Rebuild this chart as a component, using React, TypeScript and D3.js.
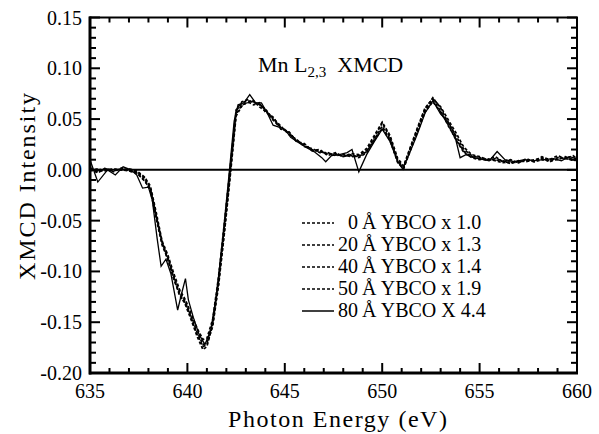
import React from 'react';
import * as d3 from 'd3';

// photon energies (eV) shared by the four dotted curves
const energyDotted = [
  635.0, 635.4, 635.8, 636.2, 636.6, 637.0, 637.4, 637.8, 638.1, 638.4,
  638.7, 639.0, 639.3, 639.6, 639.9, 640.2, 640.5, 640.8, 641.0, 641.3,
  641.6, 641.9, 642.2, 642.5, 642.8, 643.1, 643.4, 643.7, 644.0, 644.4,
  644.8, 645.2, 645.6, 646.0, 646.4, 646.8, 647.2, 647.6, 648.0, 648.4,
  648.8, 649.2, 649.6, 650.0, 650.4, 650.8, 651.1, 651.4, 651.8, 652.2,
  652.6, 653.0, 653.4, 653.8, 654.2, 654.6, 655.0, 655.4, 655.8, 656.2,
  656.6, 657.0, 657.4, 657.8, 658.2, 658.6, 659.0, 659.4, 659.8, 660.0,
];

const ybco0 = [
  0.0, -0.002, 0.0, -0.001, 0.001, 0.0, -0.002, -0.008, -0.018, -0.045,
  -0.072, -0.086, -0.105, -0.12, -0.13, -0.145, -0.16, -0.172, -0.17, -0.15,
  -0.108, -0.055, 0.0, 0.058, 0.066, 0.068, 0.067, 0.064, 0.06, 0.05,
  0.042, 0.036, 0.029, 0.024, 0.02, 0.018, 0.016, 0.015, 0.014, 0.014,
  0.013, 0.018, 0.03, 0.043, 0.03, 0.008, 0.002, 0.018, 0.038, 0.058,
  0.069, 0.058, 0.043, 0.03, 0.018, 0.013, 0.011, 0.01, 0.01, 0.008,
  0.007, 0.008, 0.009, 0.009, 0.011, 0.008, 0.011, 0.012, 0.009, 0.01,
];

const ybco20 = [
  0.002, -0.001, 0.001, 0.0, 0.0, -0.001, -0.003, -0.01, -0.02, -0.048,
  -0.074, -0.088, -0.108, -0.122, -0.133, -0.148, -0.164, -0.177, -0.174, -0.152,
  -0.112, -0.06, -0.004, 0.055, 0.064, 0.066, 0.068, 0.062, 0.058, 0.051,
  0.043, 0.035, 0.03, 0.023, 0.021, 0.017, 0.017, 0.014, 0.015, 0.013,
  0.014, 0.019, 0.032, 0.046, 0.032, 0.009, 0.003, 0.019, 0.04, 0.06,
  0.071, 0.061, 0.046, 0.033, 0.02, 0.014, 0.012, 0.009, 0.011, 0.009,
  0.006, 0.009, 0.008, 0.01, 0.012, 0.009, 0.01, 0.013, 0.01, 0.012,
];

const ybco40 = [
  -0.001, 0.001, -0.001, 0.001, 0.0, 0.001, -0.001, -0.007, -0.016, -0.042,
  -0.07, -0.084, -0.102, -0.118, -0.128, -0.142, -0.156, -0.167, -0.166, -0.147,
  -0.105, -0.052, 0.003, 0.059, 0.067, 0.069, 0.066, 0.065, 0.059, 0.049,
  0.041, 0.037, 0.028, 0.025, 0.019, 0.019, 0.015, 0.016, 0.013, 0.015,
  0.012, 0.017, 0.029, 0.041, 0.029, 0.007, 0.001, 0.017, 0.037, 0.057,
  0.067, 0.057, 0.044, 0.029, 0.017, 0.012, 0.01, 0.011, 0.009, 0.007,
  0.008, 0.007, 0.01, 0.008, 0.01, 0.009, 0.012, 0.011, 0.01, 0.009,
];

const ybco50 = [
  0.001, -0.003, 0.002, -0.002, 0.002, -0.001, -0.003, -0.011, -0.019, -0.046,
  -0.071, -0.089, -0.106, -0.124, -0.131, -0.146, -0.162, -0.174, -0.172, -0.154,
  -0.114, -0.062, -0.006, 0.053, 0.063, 0.067, 0.064, 0.066, 0.057, 0.052,
  0.04, 0.038, 0.028, 0.026, 0.019, 0.02, 0.014, 0.017, 0.013, 0.016,
  0.015, 0.021, 0.034, 0.047, 0.034, 0.011, 0.004, 0.02, 0.041, 0.061,
  0.07, 0.062, 0.049, 0.036, 0.022, 0.015, 0.013, 0.01, 0.013, 0.008,
  0.01, 0.007, 0.011, 0.008, 0.013, 0.01, 0.014, 0.011, 0.014, 0.011,
];

// the 80 A curve is sampled on its own grid
const energySolid = [
  635.0, 635.4, 635.9, 636.3, 636.7, 637.1, 637.4, 637.7, 638.0, 638.2,
  638.45, 638.65, 638.9, 639.15, 639.5, 639.7, 639.9, 640.05, 640.3, 640.6,
  640.9, 641.2, 641.5, 641.8, 642.1, 642.4, 642.6, 642.9, 643.2, 643.5,
  643.8, 644.1, 644.4, 644.7, 645.0, 645.3, 645.7, 646.1, 646.5, 646.9,
  647.1, 647.4, 647.8, 648.2, 648.45, 648.8, 649.2, 649.6, 650.0, 650.4,
  650.8, 651.05, 651.4, 651.8, 652.2, 652.6, 653.0, 653.4, 653.7, 654.0,
  654.3, 654.7, 655.2, 655.5, 655.9, 656.3, 656.8, 657.3, 657.8, 658.3,
  658.8, 659.2, 659.6, 660.0,
];

const ybco80 = [
  0.01, -0.012, 0.0, -0.005, 0.003, 0.0, -0.005, -0.018, -0.017, -0.03,
  -0.068, -0.095, -0.088, -0.102, -0.138, -0.122, -0.107, -0.128, -0.145, -0.162,
  -0.172, -0.158, -0.122, -0.07, -0.012, 0.048, 0.064, 0.066, 0.074, 0.066,
  0.066, 0.056, 0.044, 0.042, 0.04, 0.032, 0.027, 0.022, 0.018, 0.012,
  0.008, 0.014, 0.015, 0.017, 0.02, -0.002, 0.015, 0.028, 0.04, 0.028,
  0.008, 0.001, 0.016, 0.035, 0.056, 0.068, 0.055, 0.047, 0.036, 0.012,
  0.015, 0.012, 0.01, 0.009, 0.018, 0.01, 0.008, 0.01, 0.009, 0.01,
  0.011, 0.009, 0.013, 0.011,
];

const legendThickness = ['0', '20', '40', '50', '80'];
const legendText = ['Å YBCO x 1.0', 'Å YBCO x 1.3', 'Å YBCO x 1.4', 'Å YBCO x 1.9', 'Å YBCO X 4.4'];
const legendDashed = [true, true, true, true, false];

const xTicks = [635, 640, 645, 650, 655, 660];
const yTicks = [0.15, 0.1, 0.05, 0.0, -0.05, -0.1, -0.15, -0.2];

const W = 599;
const H = 434;
const left = 90;
const right = 577;
const top = 17.5;
const bottom = 373;
const font = '"Liberation Serif", "Times New Roman", serif';

export default function App() {
  const x = d3.scaleLinear().domain([635, 660]).range([left, right]);
  const y = d3.scaleLinear().domain([-0.2, 0.15]).range([bottom, top]);

  const line = d3
    .line<[number, number]>()
    .x((d) => x(d[0]))
    .y((d) => y(d[1]));

  const dotted = [ybco0, ybco20, ybco40, ybco50].map((vals) =>
    line(energyDotted.map((e, i) => [e, vals[i]] as [number, number]))
  );
  const solid = line(energySolid.map((e, i) => [e, ybco80[i]] as [number, number]));

  const xMinor = d3.range(635, 660.01, 1);
  const yMinor = d3.range(-0.2, 0.1501, 0.01);

  return (
    <svg
      width={W}
      height={H}
      style={{ position: 'absolute', left: 0, top: 0, background: '#fff' }}
      fontFamily={font}
    >
      <rect width={W} height={H} fill="#fff" />

      {/* zero line */}
      <line x1={left} x2={right} y1={y(0)} y2={y(0)} stroke="#000" strokeWidth={2} />

      {/* curves */}
      {dotted.map((d, i) => (
        <path key={i} d={d ?? ''} fill="none" stroke="#000" strokeWidth={1.7} strokeDasharray="3,2" />
      ))}
      <path d={solid ?? ''} fill="none" stroke="#000" strokeWidth={1.3} />

      {/* ticks, inward on all four sides */}
      {xMinor.map((v) => {
        const major = Math.abs(v % 5) < 1e-6;
        const len = major ? 10 : 5;
        return (
          <g key={'x' + v}>
            <line x1={x(v)} x2={x(v)} y1={bottom} y2={bottom - len} stroke="#000" strokeWidth={2} />
            <line x1={x(v)} x2={x(v)} y1={top} y2={top + len} stroke="#000" strokeWidth={2} />
          </g>
        );
      })}
      {yMinor.map((v) => {
        const major = Math.abs(Math.round(v * 100) % 5) === 0;
        const len = major ? 10 : 6;
        return (
          <g key={'y' + v.toFixed(2)}>
            <line x1={left} x2={left + len} y1={y(v)} y2={y(v)} stroke="#000" strokeWidth={2} />
            <line x1={right} x2={right - len} y1={y(v)} y2={y(v)} stroke="#000" strokeWidth={2} />
          </g>
        );
      })}

      {/* frame */}
      <rect x={left} y={top} width={right - left} height={bottom - top} fill="none" stroke="#000" strokeWidth={2} />
      <line x1={left} x2={left} y1={top - 1} y2={bottom + 1.5} stroke="#000" strokeWidth={3} />
      <line x1={left - 1} x2={right + 1} y1={bottom} y2={bottom} stroke="#000" strokeWidth={3} />

      {/* tick labels */}
      {xTicks.map((v) => (
        <text key={'xl' + v} x={x(v)} y={398} textAnchor="middle" fontSize={20}>
          {v}
        </text>
      ))}
      {yTicks.map((v) => (
        <text key={'yl' + v} x={82} y={y(v) + 7} textAnchor="end" fontSize={20}>
          {v.toFixed(2)}
        </text>
      ))}

      {/* axis titles */}
      <text x={(228 + 447) / 2} y={427} textAnchor="middle" fontSize={24} textLength={219} lengthAdjust="spacing">
        Photon Energy (eV)
      </text>
      <text
        transform={`translate(35,${186.5}) rotate(-90)`}
        textAnchor="middle"
        fontSize={24}
        textLength={187}
        lengthAdjust="spacing"
      >
        XMCD Intensity
      </text>

      {/* annotation */}
      <text x={258} y={72} fontSize={22}>
        Mn L<tspan fontSize={15} dy={5}>2,3</tspan>
        <tspan dy={-5}>{'\u00a0\u00a0XMCD'}</tspan>
      </text>

      {/* legend */}
      {legendThickness.map((t, i) => {
        const by = 229 + i * 22;
        return (
          <g key={'lg' + t}>
            <line
              x1={302}
              x2={334}
              y1={by - 6}
              y2={by - 6}
              stroke="#000"
              strokeWidth={legendDashed[i] ? 1.6 : 1.5}
              strokeDasharray={legendDashed[i] ? '3,2' : undefined}
            />
            <text x={358} y={by} textAnchor="end" fontSize={20}>
              {t}
            </text>
            <text x={362} y={by} fontSize={20}>
              {legendText[i]}
            </text>
          </g>
        );
      })}
    </svg>
  );
}
